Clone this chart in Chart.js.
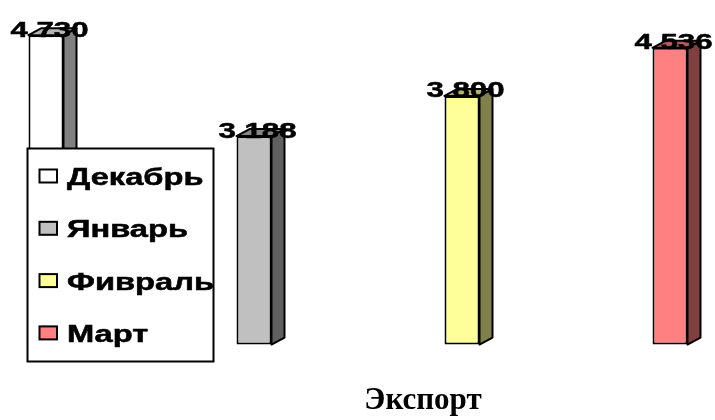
<!DOCTYPE html>
<html>
<head>
<meta charset="utf-8">
<script src="https://cdn.jsdelivr.net/npm/chart.js@4"></script>
<style>
  html, body { margin: 0; padding: 0; background: #ffffff; }
  #wrap { width: 715px; height: 420px; position: relative; }
</style>
</head>
<body>
<div id="wrap"><canvas id="c"></canvas></div>
<script>
// ---- data ----
const categories = ['Экспорт'];
const seriesNames = ['Декабрь', 'Январь', 'Фивраль', 'Март'];
const dekabrValues = [4730];
const yanvarValues = [3188];
const fevralValues = [3800];
const martValues = [4536];
const valueAxisBounds = [-585, 5000];

// ---- styles ----
const frontColors = ['#ffffff', '#c0c0c0', '#ffff99', '#ff8080'];
const sideColors  = ['#808080', '#606060', '#80804c', '#804040'];
const topColors   = ['#b3b3b3', '#868686', '#b3b36b', '#b35a5a'];
const DEPTH_X = 13, DEPTH_Y = 7;
const STRETCH = 1.42;
const LINE = 2;

const seriesValues = [dekabrValues, yanvarValues, fevralValues, martValues];

function fmt(v) {
  return String(v).replace(/\B(?=(\d{3})+(?!\d))/g, ' ');
}

function boldText(ctx, text, x, y) {
  ctx.fillText(text, x, y);
  ctx.lineWidth = 0.5;
  ctx.strokeStyle = '#000000';
  ctx.strokeText(text, x, y);
}

const bar3d = {
  id: 'bar3d',
  afterDatasetsDraw(chart) {
    const ctx = chart.ctx;
    chart.data.datasets.forEach((ds, i) => {
      const meta = chart.getDatasetMeta(i);
      meta.data.forEach((el) => {
        const p = el.getProps(['x', 'y', 'base', 'width'], true);
        const xl = p.x - p.width / 2, xr = p.x + p.width / 2;
        const top = Math.min(p.y, p.base), bot = Math.max(p.y, p.base);
        ctx.save();
        ctx.lineWidth = LINE;
        ctx.strokeStyle = '#000000';
        ctx.lineJoin = 'round';
        // side face
        ctx.beginPath();
        ctx.moveTo(xr, top);
        ctx.lineTo(xr + DEPTH_X, top - DEPTH_Y);
        ctx.lineTo(xr + DEPTH_X, bot - DEPTH_Y);
        ctx.lineTo(xr, bot);
        ctx.closePath();
        ctx.fillStyle = sideColors[i];
        ctx.fill();
        ctx.stroke();
        // top face
        ctx.beginPath();
        ctx.moveTo(xl, top);
        ctx.lineTo(xl + DEPTH_X, top - DEPTH_Y);
        ctx.lineTo(xr + DEPTH_X, top - DEPTH_Y);
        ctx.lineTo(xr, top);
        ctx.closePath();
        ctx.fillStyle = topColors[i];
        ctx.fill();
        ctx.stroke();
        ctx.restore();
      });
    });
    // value labels
    chart.data.datasets.forEach((ds, i) => {
      const meta = chart.getDatasetMeta(i);
      meta.data.forEach((el, j) => {
        const p = el.getProps(['x', 'y'], true);
        ctx.save();
        ctx.font = 'bold 22px "Liberation Sans", Arial, sans-serif';
        ctx.fillStyle = '#000000';
        ctx.textAlign = 'center';
        ctx.textBaseline = 'alphabetic';
        ctx.translate(p.x + 3.5, p.y + 1.5);
        ctx.scale(STRETCH, 1);
        boldText(ctx, fmt(ds.data[j]), 0, 0);
        ctx.restore();
      });
    });
  },
  afterDraw(chart) {
    const ctx = chart.ctx;
    const bx = 27.5, by = 148.5, bw = 186, bh = 213;
    ctx.save();
    ctx.fillStyle = '#ffffff';
    ctx.fillRect(bx, by, bw, bh);
    ctx.lineWidth = LINE;
    ctx.strokeStyle = '#000000';
    ctx.strokeRect(bx, by, bw, bh);
    chart.data.datasets.forEach((ds, i) => {
      const sy = 169.5 + i * 52.3;
      ctx.fillStyle = frontColors[i];
      ctx.fillRect(39.5, sy, 17.5, 13);
      ctx.lineWidth = LINE;
      ctx.strokeStyle = '#000000';
      ctx.strokeRect(39.5, sy, 17.5, 13);
      ctx.save();
      ctx.font = 'bold 23px "Liberation Sans", Arial, sans-serif';
      ctx.fillStyle = '#000000';
      ctx.textAlign = 'left';
      ctx.textBaseline = 'alphabetic';
      ctx.translate(67, sy + 15.5);
      ctx.scale(STRETCH, 1);
      boldText(ctx, ds.label, 0, 0);
      ctx.restore();
    });
    ctx.restore();
  }
};

new Chart(document.getElementById('c'), {
  type: 'bar',
  data: {
    labels: categories,
    datasets: seriesNames.map((name, i) => ({
      label: name,
      data: seriesValues[i],
      backgroundColor: frontColors[i],
      borderColor: '#000000',
      borderWidth: LINE,
      borderSkipped: false,
      categoryPercentage: 832 / 714,
      barPercentage: 35 / 208
    }))
  },
  options: {
    responsive: true,
    maintainAspectRatio: false,
    animation: false,
    events: [],
    layout: { padding: { left: 1, right: 0, top: 17.5, bottom: 0 } },
    plugins: {
      legend: { display: false },
      tooltip: { enabled: false },
      title: { display: false }
    },
    scales: {
      x: {
        grid: { display: false, drawTicks: false },
        border: { display: false },
        ticks: {
          color: '#000000',
          padding: 0,
          labelOffset: 65,
          font: { family: '"Liberation Serif", "Times New Roman", serif', size: 31, weight: 'bold' }
        }
      },
      y: {
        display: false,
        min: valueAxisBounds[0],
        max: valueAxisBounds[1]
      }
    }
  },
  plugins: [bar3d]
});
</script>
</body>
</html>
